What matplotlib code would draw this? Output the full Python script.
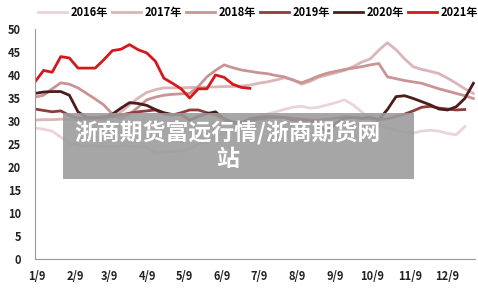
import matplotlib
matplotlib.use("Agg")
import matplotlib.pyplot as plt
from matplotlib.patches import Rectangle

plt.rcParams['font.family'] = ['Noto Sans CJK SC', 'DejaVu Sans']

# weekly points, day of year
years = ['2016年', '2017年', '2018年', '2019年', '2020年', '2021年']
colors = ['#ead4d7', '#dbb5b7', '#c99494', '#8e3c3c', '#4e1b1b', '#d3191d']

y2016 = [28.5, 28.2, 27.8, 26.5, 25.2, 24.8, 24.6, 24.5, 24.5, 24.4, 24.6, 24.5, 24.4,
         24.2, 23.0, 23.2, 23.4, 23.5, 24.0, 25.0, 25.6, 26.5, 27.5, 28.5, 29.5, 30.5,
         31.0, 31.5, 32.0, 32.5, 33.0, 33.2, 32.8, 33.0, 33.5, 34.0, 34.6, 33.5, 32.0,
         30.5, 29.2, 28.5, 28.0, 27.6, 27.4, 27.8, 28.0, 27.8, 27.3, 27.0, 28.8]
y2017 = [30.2, 30.3, 30.3, 30.4, 30.4, 30.3, 30.2, 30.2, 30.3, 31.0, 32.0, 33.5, 35.0,
         36.2, 36.8, 37.2, 37.2, 37.2, 37.3, 37.3, 37.4, 37.4, 37.5, 37.5, 37.6, 37.8,
         38.2, 38.5, 38.9, 39.4, 39.0, 38.0, 38.6, 39.5, 40.0, 40.5, 41.0, 41.8, 42.8,
         43.5, 45.4, 47.0, 45.5, 43.5, 41.8, 41.2, 40.8, 40.3, 39.3, 38.2, 37.0, 36.0]
y2018 = [35.2, 35.6, 37.0, 38.3, 38.0, 37.2, 36.0, 34.8, 33.5, 31.5, 30.5, 31.5, 33.0,
         34.6, 35.2, 35.6, 35.8, 35.9, 36.0, 37.5, 39.6, 41.0, 42.2, 41.6, 41.1, 40.8,
         40.5, 40.3, 39.9, 39.6, 38.9, 38.3, 39.0, 39.8, 40.4, 40.8, 41.2, 41.5, 41.8,
         42.2, 42.5, 39.6, 39.2, 38.8, 38.5, 38.2, 37.6, 37.0, 36.5, 36.0, 35.5, 34.9]
y2019 = [32.6, 32.3, 32.0, 32.2, 31.2, 30.6, 30.6, 30.6, 31.0, 30.9, 31.3, 31.7, 32.0,
         32.2, 32.4, 31.5, 31.3, 31.8, 32.4, 32.4, 31.8, 31.3, 30.5, 29.8, 29.6, 30.0,
         30.4, 30.6, 30.8, 30.8, 30.6, 30.4, 30.2, 30.2, 30.4, 30.6, 30.9, 30.8, 30.6,
         30.6, 30.3, 30.5, 31.0, 31.5, 32.2, 33.0, 33.2, 32.8, 32.6, 32.4, 32.5]
y2020 = [36.0, 36.3, 36.4, 36.4, 35.6, 32.0, 30.8, 30.7, 30.7, 31.5, 32.8, 34.0, 33.8,
         33.4, 32.5, 31.8, 31.4, 31.4, 30.2, 31.0, 31.6, 32.0, 30.4, 29.5, 29.6, 30.5,
         30.8, 30.9, 30.9, 30.8, 30.2, 30.2, 30.2, 29.0, 27.5, 29.5, 30.6, 30.8, 30.6,
         30.8, 30.3, 32.5, 35.3, 35.5, 34.9, 34.2, 33.5, 32.6, 32.4, 33.1, 34.9, 38.2]
y2021 = [38.5, 41.0, 40.6, 44.0, 43.7, 41.5, 41.5, 41.5, 43.3, 45.3, 45.6, 46.6, 45.5,
         44.8, 43.0, 39.3, 38.2, 37.0, 35.0, 37.0, 37.0, 40.0, 39.5, 38.0, 37.3, 37.1]
series = [y2016, y2017, y2018, y2019, y2020, y2021]

tick_days = [8, 39, 67, 98, 128, 159, 189, 220, 251, 281, 312, 342]
tick_labels = ['1/9', '2/9', '3/9', '4/9', '5/9', '6/9', '7/9', '8/9', '9/9', '10/9', '11/9', '12/9']

fig = plt.figure(figsize=(4.78, 2.93), dpi=100)
ax = fig.add_axes([0.0732, 0.116, 0.9205, 0.785])

for name, c, ys in zip(years, colors, series):
    xs = [6.4 + 7 * i for i in range(len(ys))]
    ax.plot(xs, ys, color=c, lw=2.0, label=name, solid_joinstyle='round')

ax.set_xlim(6.4, 364.7)
ax.set_ylim(0, 50)
ax.set_yticks(range(0, 51, 5))
ax.set_xticks(tick_days)
ax.set_xticklabels(tick_labels)
for s in ['top', 'right']:
    ax.spines[s].set_visible(False)
for s in ['left', 'bottom']:
    ax.spines[s].set_color('#999999')
ax.tick_params(length=0, labelsize=8, colors='#222222')
ax.tick_params(axis='y', pad=10)
ax.tick_params(axis='x', pad=8)
for t in ax.get_xticklabels() + ax.get_yticklabels():
    t.set_fontweight('bold')

fig.legend(loc='center', bbox_to_anchor=(0.54, 0.958), ncol=6, frameon=False,
           prop={'size': 8, 'weight': 'bold'}, handlelength=2.6, handletextpad=0.3,
           columnspacing=0.4, borderaxespad=0)

# watermark box
fig.patches.append(Rectangle((0.132, 0.389), 0.734, 0.225, transform=fig.transFigure,
                             facecolor='#9c9c9c', alpha=0.9, edgecolor='none', zorder=5))
fig.text(0.476, 0.502, '浙商期货富远行情/浙商期货网\n站', color='white', fontsize=16.5,
         fontweight='bold', ha='center', va='center', multialignment='center',
         linespacing=1.1, zorder=6)

fig.savefig('out.png', dpi=100)
